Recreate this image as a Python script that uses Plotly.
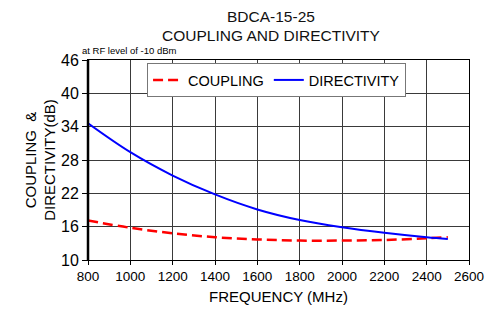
import plotly.graph_objects as go

freq = [800, 1000, 1200, 1400, 1600, 1800, 2000, 2200, 2400, 2500]
coupling = [17.1, 15.8, 14.8, 14.1, 13.7, 13.5, 13.5, 13.6, 13.9, 14.1]
directivity = [34.6, 29.4, 25.2, 21.8, 19.1, 17.2, 15.9, 14.9, 14.1, 13.8]

x_ticks = list(range(800, 2601, 200))
y_ticks = [10, 16, 22, 28, 34, 40, 46]

FONT = "Liberation Sans, Arial, sans-serif"

fig = go.Figure()
fig.add_trace(go.Scatter(x=freq, y=coupling, mode="lines", name="COUPLING",
                         line=dict(color="#ff0000", width=2.5, dash="10px,5px", shape="spline")))
fig.add_trace(go.Scatter(x=freq, y=directivity, mode="lines", name="DIRECTIVITY",
                         line=dict(color="#0000ff", width=2, shape="spline")))

fig.update_layout(
    width=501, height=316,
    margin=dict(l=88, r=32, t=60, b=56),
    paper_bgcolor="white", plot_bgcolor="white",
    font=dict(family=FONT, color="#000", size=13),
    showlegend=True,
    legend=dict(x=0.155, y=0.985, xanchor="left", yanchor="top", orientation="h",
                bgcolor="white", bordercolor="#777", borderwidth=1,
                font=dict(size=14.5, family=FONT), itemwidth=30),
    xaxis=dict(range=[800, 2600], tickvals=x_ticks, ticktext=[str(v) for v in x_ticks],
               showgrid=True, gridcolor="#3a3a3a", gridwidth=1,
               showline=True, linecolor="#000", linewidth=1, mirror=True,
               ticks="outside", ticklen=4, tickcolor="#000",
               tickfont=dict(size=13.5), zeroline=False,
               title=dict(text="FREQUENCY (MHz)", font=dict(size=15), standoff=8)),
    yaxis=dict(range=[10, 46], tickvals=y_ticks, ticktext=[str(v) for v in y_ticks],
               showgrid=True, gridcolor="#3a3a3a", gridwidth=1,
               showline=True, linecolor="#000", linewidth=1, mirror=True,
               ticks="outside", ticklen=5, tickcolor="#000",
               tickfont=dict(size=16), zeroline=False,
               title=dict(text="COUPLING  &<br>DIRECTIVITY(dB)", font=dict(size=15), standoff=1)),
    annotations=[
        dict(text="BDCA-15-25", xref="paper", yref="paper", x=0.48, y=1.22,
             xanchor="center", yanchor="middle", showarrow=False,
             font=dict(size=15.5, family=FONT, color="#111")),
        dict(text="COUPLING AND DIRECTIVITY", xref="paper", yref="paper", x=0.48, y=1.125,
             xanchor="center", yanchor="middle", showarrow=False,
             font=dict(size=15.5, family=FONT, color="#111")),
        dict(text="at RF level of -10 dBm", xref="paper", yref="paper",
             x=-0.02, y=1.01, xanchor="left", yanchor="bottom", showarrow=False,
             font=dict(size=9.5, family=FONT)),
    ],
    shapes=[dict(type="line", xref="paper", yref="paper", x0=0, x1=0, y0=0, y1=1,
                 line=dict(color="#000", width=2.5))],
)

fig.write_html("out.html", config={"displayModeBar": False},
               post_script="document.body.style.margin='0';document.body.style.padding='0';")
